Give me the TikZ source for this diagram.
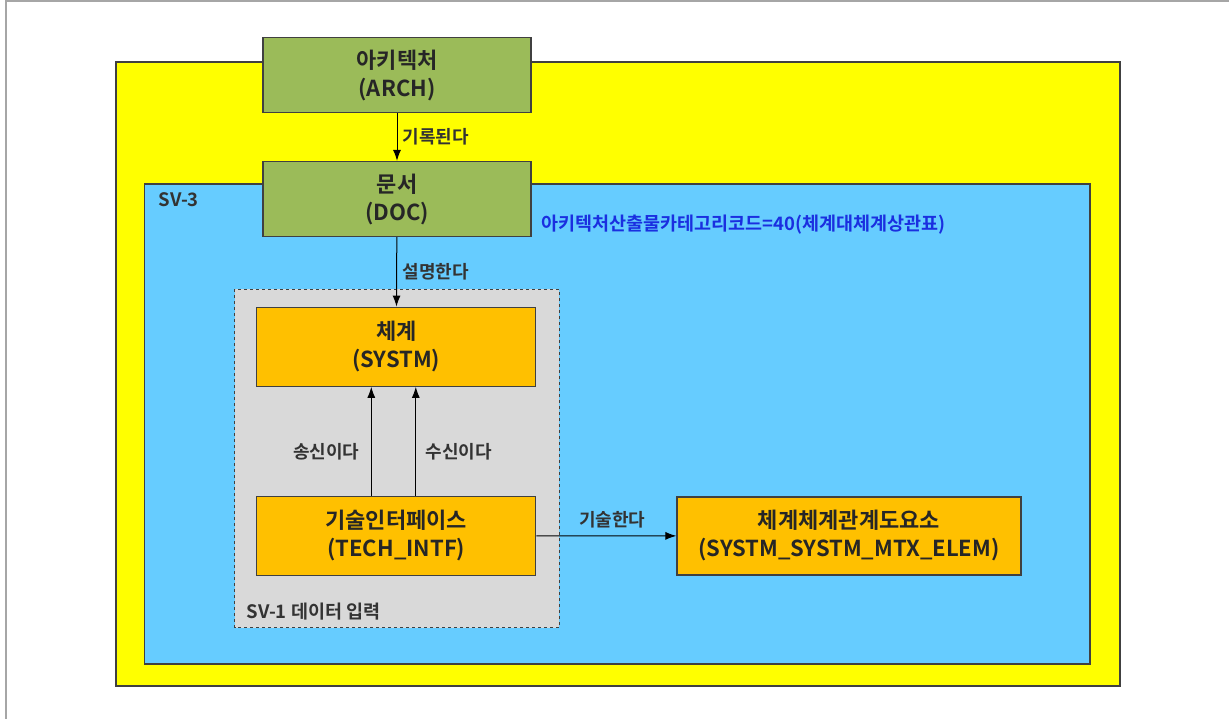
\documentclass[tikz,border=0pt]{standalone}
\usepackage{fontspec}
\setmainfont{Noto Sans CJK KR}[BoldFont={Noto Sans CJK KR Bold}]
\usepackage{xcolor}
\usetikzlibrary{arrows.meta,calc,positioning}
\definecolor{archGreen}{HTML}{9BBB59}
\definecolor{entOrange}{HTML}{FFC000}
\definecolor{sheetYellow}{HTML}{FFFF00}
\definecolor{viewBlue}{HTML}{66CCFF}
\definecolor{inputGray}{HTML}{D9D9D9}
\definecolor{catBlue}{HTML}{1A2FE0}
\definecolor{lineGray}{HTML}{404040}

\begin{document}
\begin{tikzpicture}[x=1pt,y=-1pt,>={Latex[length=11pt,width=8pt]},
    entity/.style={draw=lineGray,line width=1.2pt,align=center,text=black!85,
      font=\fontsize{22}{28}\selectfont\bfseries,inner sep=0pt},
    rel/.style={font=\fontsize{18}{20}\selectfont\bfseries,text=black!80},
    tag/.style={font=\fontsize{18.5}{20}\selectfont\bfseries,anchor=west}]
    \useasboundingbox (0,0) rectangle (1229,719);
    \draw[gray!70,line width=2pt] (5,1.5) -- (1229,1.5);
    \draw[gray!70,line width=2pt] (5.5,1) -- (5.5,719);
    \filldraw[fill=sheetYellow,draw=lineGray,line width=1.2pt] (116,62) rectangle (1120,686);
    \filldraw[fill=viewBlue,draw=lineGray,line width=1.2pt] (144.5,184) rectangle (1090,664);
    \filldraw[fill=inputGray,draw=lineGray,dashed,line width=0.8pt] (234.7,289.3) rectangle (559.3,627.7);
    \node[tag,text=black!80] (sv3) at (155,200) {SV-3};
    \node[tag,text=catBlue] (cat) at (538,225) {아키텍처산출물카테고리코드=40(체계대체계상관표)};
    \node[tag,text=black!80] (sv1) at (243,612) {SV-1 데이터 입력};
    % entities
    \node[entity,fill=archGreen,minimum width=268pt,minimum height=75pt] (arch) at (397,75.3) {아키텍처\\(ARCH)};
    \node[entity,fill=archGreen,minimum width=268pt,minimum height=75pt] (doc) at (397,199) {문서\\(DOC)};
    \node[entity,fill=entOrange,minimum width=279pt,minimum height=79pt] (systm) at (396.3,346.7) {체계\\(SYSTM)};
    \node[entity,fill=entOrange,minimum width=279pt,minimum height=79pt] (tech) at (396.3,535.7) {기술인터페이스\\(TECH\_INTF)};
    \node[entity,fill=entOrange,minimum width=344pt,minimum height=78pt] (elem) at (849,536) {체계체계관계도요소\\(SYSTM\_SYSTM\_MTX\_ELEM)};
    % relations
    \draw[->,line width=1pt] (arch) -- node[rel,right=2pt] {기록된다} (doc);
    \draw[->,line width=1pt] (doc) -- node[rel,right=2pt] {설명한다} (systm);
    \draw[->,line width=1pt] ([xshift=-25pt]tech.north) -- node[rel,pos=0.4,left=8pt] {송신이다} ([xshift=-25pt]systm.south);
    \draw[->,line width=1pt] ([xshift=19.5pt]tech.north) -- node[rel,pos=0.4,right=6pt] {수신이다} ([xshift=19.5pt]systm.south);
    \draw[->,line width=1pt] (tech) -- node[rel,above=4pt,xshift=6pt] {기술한다} (elem);
\end{tikzpicture}
\end{document}
